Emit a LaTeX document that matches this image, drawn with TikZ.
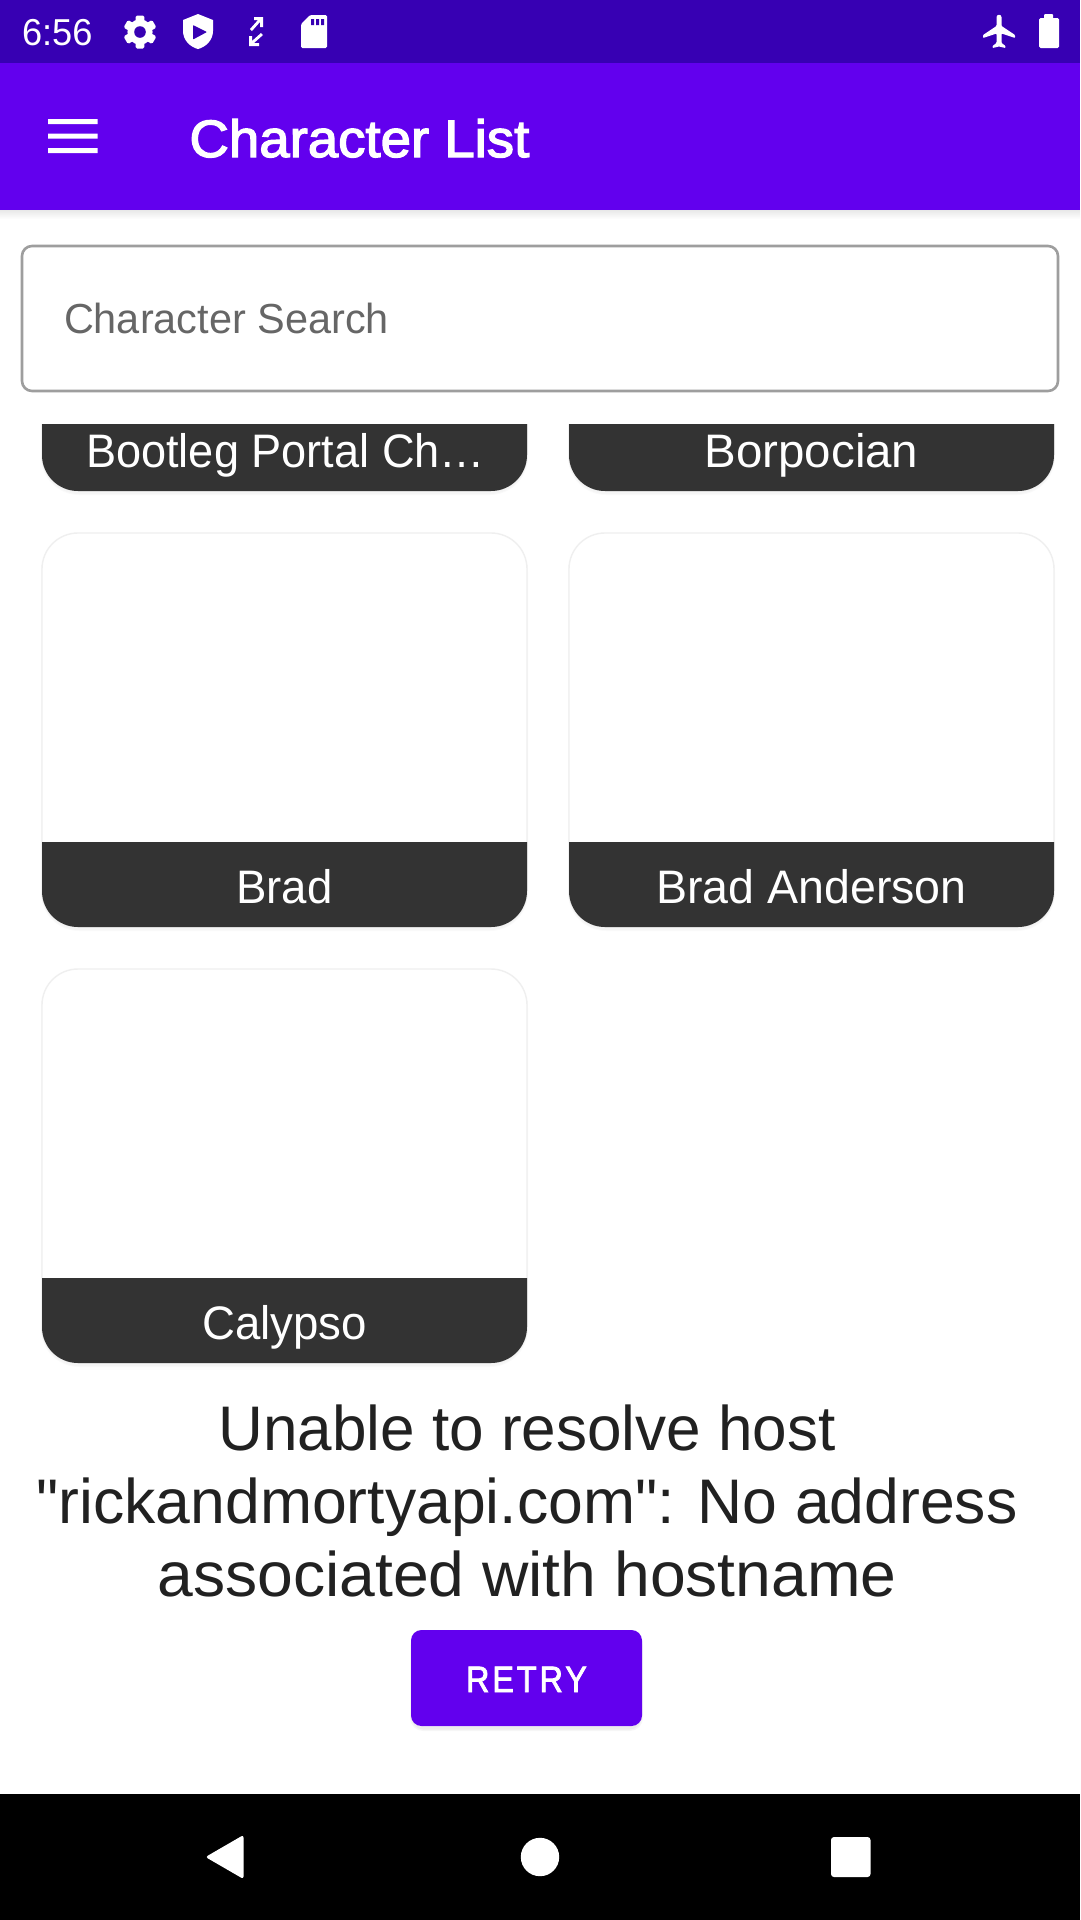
\documentclass[tikz,border=0pt]{standalone}
\usepackage{fontspec}
\setmainfont[Ligatures=TeXOff]{Liberation Sans}
\newcommand{\st}[1]{\addfontfeature{FakeStretch=#1}}
\newfontfamily\rbm[FakeStretch=1.04,FakeBold=2.5]{Liberation Sans}
\newfontfamily\rbb[FakeStretch=0.88,LetterSpace=8,FakeBold=2]{Liberation Sans}
\definecolor{statusbar}{HTML}{3700B3}
\definecolor{primary}{HTML}{6200EE}
\definecolor{band}{HTML}{333333}
\definecolor{hint}{HTML}{666666}
\definecolor{outlinegrey}{HTML}{9E9E9E}
\definecolor{errtext}{HTML}{212121}
\definecolor{cardedge}{HTML}{EFEFEF}
\tikzset{
  pxtext/.style={inner sep=0pt,outer sep=0pt},
  cardlabel/.style={pxtext,anchor=base,text=white,font=\fontsize{47}{52}\selectfont},
  icon/.style={fill=white,draw=none},
  softshadow/.style={draw=black,draw opacity=0.02,fill=none},
}
\newcommand{\RMcard}[2]{%
  \begin{scope}[shift={(#1,#2)}]
    \foreach \w in {4,2}{
      \draw[softshadow,line width=\w pt,rounded corners=36pt] (1,3) rectangle (484,396);
    }
    \draw[fill=white,draw=cardedge,line width=1.4pt,rounded corners=36pt] (0,0) rectangle (485,394);
    \fill[band] (0,309) -- (0,358) .. controls (0,377.9) and (16.1,394) .. (36,394)
      -- (449,394) .. controls (468.9,394) and (485,377.9) .. (485,358) -- (485,309) -- cycle;
  \end{scope}}
\begin{document}
\begin{tikzpicture}[x=1pt,y=-1pt]
\useasboundingbox (0,0) rectangle (1080,1920);
\fill[white] (0,0) rectangle (1080,1920);
% bars
\shade[top color=black!9,bottom color=white] (0,210) rectangle (1080,219);
\fill[statusbar] (0,0) rectangle (1080,63);
\fill[primary] (0,63) rectangle (1080,210);
\fill[black] (0,1794) rectangle (1080,1920);
% status bar
\node[pxtext,anchor=base west,text=white,font=\st{0.965}\fontsize{37.5}{40}\selectfont] (clock) at (22,45) {6:56};
% gear
\begin{scope}[shift={(140,32)}]
  \foreach \a in {30,90,150}{
    \fill[white,rotate=\a,rounded corners=1.5pt] (-16.5,-4.4) rectangle (16.5,4.4);
  }
  \fill[white] (0,0) circle (12.6pt);
  \fill[statusbar] (0,0) circle (5.8pt);
\end{scope}
% shield
\fill[icon] (198,14) -- (213,20) -- (213,31) .. controls (213,40) and (206,47) .. (198,49)
  .. controls (190,47) and (183,40) .. (183,31) -- (183,20) -- cycle;
\fill[statusbar,rounded corners=0.8pt] (193,25) -- (207,32) -- (193,39.5) -- cycle;
% arrows
\fill[icon] (254,17) -- (263,17) -- (263,27) -- (260,27) -- (260,22) -- (252,31) -- (250,29) -- (258,20) -- (254,20) -- cycle;
\fill[icon] (259,46) -- (249,46) -- (249,36) -- (252,36) -- (252,41) -- (261,33) -- (263,35) -- (254,43) -- (259,43) -- cycle;
% sd card
\fill[icon,rounded corners=1.5pt] (310,15) -- (327,15) -- (327,48) -- (301,48) -- (301,24) -- cycle;
\fill[statusbar] (311,19) rectangle (314,25) (316,19) rectangle (319,25) (321,19) rectangle (324,25);
% plane
\fill[icon,rounded corners=0.8pt] (996.5,18) .. controls (996.5,14) and (1001.5,14) .. (1001.5,18)
  -- (1001.5,26) -- (1015,35) -- (1015,38) -- (1001.5,33.5) -- (1001.5,43) -- (1005.5,46) -- (1005.5,48)
  -- (999,46.5) -- (992.5,48) -- (992.5,46) -- (996.5,43) -- (996.5,33.5) -- (983,38) -- (983,35) -- (996.5,26) -- cycle;
% battery
\fill[icon,rounded corners=1pt] (1044,14) rectangle (1053,20);
\fill[icon,rounded corners=1.5pt] (1039,18) rectangle (1059,48);
% app bar
\fill[white] (48,119) rectangle (97.5,124.2) (48,133.5) rectangle (97.5,138.7) (48,148) rectangle (97.5,153.2);
\node[pxtext,anchor=base west,text=white,font=\rbm\fontsize{52.5}{56}\selectfont] (title) at (189.5,157) {Character List};
% search
\draw[draw=outlinegrey,line width=2.6pt,rounded corners=10pt,fill=white] (22,246) rectangle (1058,391);
\node[pxtext,anchor=base west,text=hint,font=\st{0.987}\fontsize{42}{48}\selectfont] (search) at (64,333) {Character Search};
% cards
\begin{scope}
  \clip (0,424) rectangle (1080,1794);
  \RMcard{42}{97}
  \RMcard{569}{97}
\end{scope}
\RMcard{42}{533}
\RMcard{569}{533}
\RMcard{42}{969}
\node[cardlabel,font=\st{0.96}\fontsize{47}{52}\selectfont] (c1) at (285.5,467) {Bootleg Portal Ch…};
\node[cardlabel,font=\st{1.01}\fontsize{47}{52}\selectfont] (c2) at (811.5,467) {Borpocian};
\node[cardlabel,font=\st{0.97}\fontsize{47}{52}\selectfont] (c3) at (284.5,903) {Brad};
\node[cardlabel,font=\st{0.99}\fontsize{47}{52}\selectfont] (c4) at (811.5,903) {Brad Anderson};
\node[cardlabel,font=\st{0.97}\fontsize{47}{52}\selectfont] (c5) at (284.5,1339) {Calypso};
% error
\node[pxtext,align=center,text=errtext,font=\fontsize{63}{73}\selectfont] (err) at (527,1501)
  {{\st{0.985}Unable to resolve host}\\{\st{0.992}"rickandmortyapi.com": No address}\\{\st{1.02}associated with hostname}};
% retry
\foreach \w in {6,3}{
  \draw[softshadow,line width=\w pt,rounded corners=10.5pt,draw opacity=0.035] (413,1636) rectangle (640,1728);
}
\node[draw=none,fill=primary,rounded corners=10.5pt,minimum width=231pt,minimum height=96pt,inner sep=0pt,anchor=center] (retry) at (526.5,1678) {};
\node[pxtext,anchor=base,text=white,font=\rbb\fontsize{36.75}{40}\selectfont] (retrytext) at (526.5,1692) {RETRY};
% navigation
\fill[icon,rounded corners=2.5pt] (243.5,1835) -- (243.5,1879) -- (205.5,1857) -- cycle;
\fill[icon] (540,1857) circle (19.2pt);
\fill[icon,rounded corners=3pt] (831,1837) rectangle (870.5,1877);
\end{tikzpicture}
\end{document}
